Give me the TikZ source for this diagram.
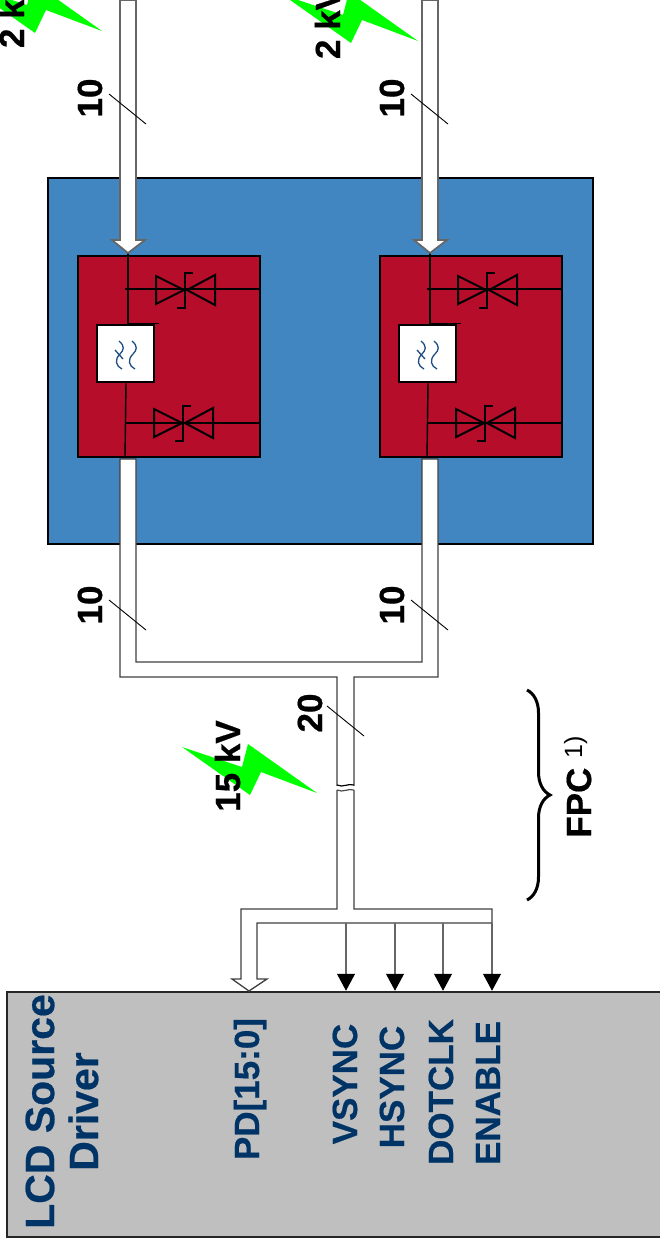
\documentclass[tikz,border=0pt]{standalone}
\usepackage{fontspec}
\setmainfont{Liberation Sans}[BoldFeatures={FakeBold=0.5}]
\usetikzlibrary{arrows.meta,positioning,calc,decorations.pathreplacing}
\definecolor{panelblue}{RGB}{65,134,192}
\definecolor{chipred}{RGB}{181,13,42}
\definecolor{drivergray}{RGB}{191,191,191}
\definecolor{signavy}{RGB}{0,51,102}
\definecolor{wavyblue}{RGB}{31,78,133}
\begin{document}
\begin{tikzpicture}[
  x=1pt,y=-1pt,
  lab/.style={font=\bfseries\fontsize{35}{40}\selectfont,rotate=90,anchor=base,inner sep=0pt},
  sig/.style={lab,text=signavy},
  panel/.style={draw=black,line width=2pt,fill=panelblue,minimum width=545pt,minimum height=366pt,inner sep=0pt},
  chip/.style={draw=black,line width=2.5pt,fill=chipred,minimum width=182pt,minimum height=201pt,inner sep=0pt},
  filt/.style={draw=black,line width=2.5pt,fill=white,minimum width=57pt,minimum height=57pt,inner sep=0pt},
  driver/.style={draw=black!85,line width=2.5pt,fill=drivergray,minimum width=700pt,minimum height=245pt,inner sep=0pt},
  bus/.style={draw=black!60,line width=1.7pt,fill=white,line join=miter},
  wire/.style={draw=black,line width=1.4pt},
  tick/.style={draw=black,line width=.9pt},
  arr/.style={-{Triangle[length=17pt,width=18pt,color=black]},black!60,line width=1.2pt},
  zap/.pic={\fill[green] (0,0) -- (60,20) -- (66,-3) -- (135,46) -- (79,25) -- (68,48) -- cycle;},
  tvs/.pic={
    \draw[black,line width=2pt] (-28,-14) -- (0,0) -- (-28,14) -- cycle;
    \draw[black,line width=2pt] (31,-15) -- (3,0) -- (31,15) -- cycle;
    \draw[black,line width=2pt] (9,-17) -- (1,-17) -- (1,18) -- (-7,18);
  }
]
\clip (0,0) rectangle (660,1245);
% board and protection devices
\node[panel] (board) at (320.5,361) {};
\foreach \n/\dx in {a/0,b/302}{
  \begin{scope}[shift={(\dx,0)}]
    \node[chip] (chip\n) at (169,356.5) {};
    \coordinate (in\n) at (128,253);
    \coordinate (out\n) at (125,458);
    \node[filt] (filt\n) at (125.5,353.5) {};
    \draw[wire] (in\n) -- (in\n |- filt\n.north) -- ++(31,0);
    \draw[wire] (filt\n.south -| out\n) ++(1,0) -- (out\n);
    \draw[wire] (125,289) -- (chip\n.east |- 0,289);
    \draw[wire] (125,423) -- (chip\n.east |- 0,423);
    \pic at (184,290) {tvs};
    \pic at (182,423) {tvs};
    \foreach \w in {0,13}{
      \draw[wavyblue,line width=1.3pt,xshift=\w] (119,341) .. controls (125,346) and (124,350) .. (120,354) .. controls (114,360) and (116,366) .. (122,369);
    }
    \draw[wavyblue,line width=1.3pt] (115,350) -- (123,359);
    % hollow bus into the chip
    \draw[bus] (in\n) -- ++(-16,-13) -- ++(8,0) -- (120,0) -- (136,0) -- (136,240) -- ++(9,0) -- cycle;
    \draw[tick] (109,94) -- (146,124);
    \node[lab] (top\n) at (102,98) {10};
    \node[lab] (low\n) at (102,605) {10};
  \end{scope}
}
% merged bus down to the driver
\node[driver] (lcd) at (357,1114.5) {};
\draw[bus,line width=1.3pt,draw=black!75] (120,459) -- (120,677) -- (337,677) -- (337,909) -- (241,909) -- (241,979) -- (232,979) -- (249,991) -- (267,979) -- (257,979) -- (257,923) -- (492,923) -- (492,909) -- (354,909) -- (354,677) -- (438,677) -- (438,459) -- (422,459) -- (422,662) -- (136,662) -- (136,459) -- cycle;
\fill[white] (334,786) rectangle (358,789.5);
\draw[wire,line width=1.2pt] (337,785) .. controls (343,788) and (348,783) .. (354,785);
\draw[wire,line width=1.2pt,black!70] (337,790) .. controls (343,793) and (348,788) .. (354,790);
\draw[tick] (109,600) -- (146,630);
\draw[tick] (411,600) -- (448,630);
\draw[tick] (327,706) -- (364,736);
\foreach \n/\x in {vsync/346,hsync/395,dotclk/443,enable/492}{
  \coordinate (tap\n) at (\x,923);
  \draw[arr] (tap\n) -- (tap\n |- lcd.north);
}
\node[lab] (buswidth) at (322,713) {20};
% surges
\pic at (182,747) {zap};
\pic at (-33,-15) {zap};
\pic at (283,-5) {zap};
\node[lab] (surgefpc) at (240,766) {15 kV};
\node[lab] (surgea) at (24,12) {2 kV};
\node[lab] (surgeb) at (340,23) {2 kV};
% fpc brace
\coordinate (fpctop) at (527,690);
\coordinate (fpcbot) at (527,900);
\draw[black,line width=3pt,decorate,decoration={brace,amplitude=23pt}] (fpctop) -- (fpcbot);
\node[lab] (fpc) at (591,787) {FPC\hspace{9pt}\raisebox{9pt}{\mdseries\fontsize{25}{30}\selectfont 1)}};
% driver labels
\node[sig,align=center,anchor=center,font=\bfseries\fontsize{41}{44}\selectfont] (lcdname) at (62,1111.5) {LCD Source\\Driver};
\node[sig] (pd) at (259,1089) {PD[15:0]};
\node[sig] (vsync) at (357,1084) {VSYNC};
\node[sig] (hsync) at (404,1087) {HSYNC};
\node[sig] (dotclk) at (453,1092) {DOTCLK};
\node[sig] (enable) at (500,1093) {ENABLE};
\end{tikzpicture}
\end{document}
